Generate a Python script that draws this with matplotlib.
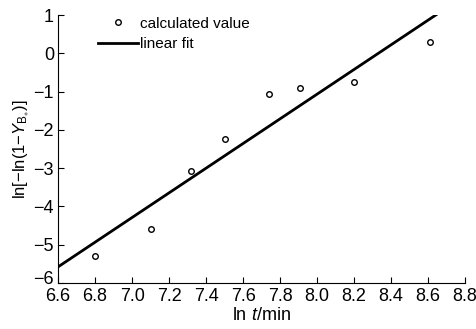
import numpy as np
import matplotlib
matplotlib.use("Agg")
import matplotlib.pyplot as plt
import matplotlib.transforms as mtransforms

plt.rcParams['font.family'] = ['Liberation Sans', 'DejaVu Sans']
plt.rcParams['mathtext.fontset'] = 'custom'
plt.rcParams['mathtext.rm'] = 'Liberation Sans'
plt.rcParams['mathtext.it'] = 'Liberation Sans:italic'

# calculated values
ln_t = [6.80, 7.10, 7.32, 7.50, 7.74, 7.91, 8.20, 8.61]
ln_y = [-5.29, -4.59, -3.07, -2.24, -1.06, -0.91, -0.75, 0.30]

# linear fit endpoints
fit_x = [6.6, 8.65]
fit_y = [-5.58, 1.03]

xticks = [6.6, 6.8, 7.0, 7.2, 7.4, 7.6, 7.8, 8.0, 8.2, 8.4, 8.6, 8.8]
yticks = [-6, -5, -4, -3, -2, -1, 0, 1]

fig = plt.figure(figsize=(4.76, 3.29), dpi=100)
ax = fig.add_axes([0.122, 0.140, 0.855, 0.814])

ax.plot(ln_t, ln_y, 'o', mfc='white', mec='black', ms=4, mew=1.0,
        label='calculated value', zorder=3)
ax.plot(fit_x, fit_y, '-', color='black', lw=2, label='linear fit')

ax.set_xlim(6.6, 8.8)
ax.set_ylim(-6, 1)
ax.set_xticks(xticks)
ax.set_yticks(yticks)
ax.set_xticklabels([f'{v:.1f}' for v in xticks])
ax.set_yticklabels([f'{v}'.replace('-', '\u2212') for v in yticks])
ax.tick_params(direction='in', length=4, width=0.8, labelsize=13)
ax.tick_params(axis='x', pad=4)
ax.tick_params(axis='y', pad=3)

# lift the bottom y label a little so it does not sit on 6.6
lab = ax.get_yticklabels()[0]
lab.set_transform(lab.get_transform() +
                  mtransforms.ScaledTranslation(0, 4 / 72, fig.dpi_scale_trans))

for s in ['top', 'right']:
    ax.spines[s].set_visible(False)

ax.set_xlabel(r'ln $t$/min', fontsize=13, labelpad=1)
ax.set_ylabel(r'ln[$-$ln(1$-$$Y_{\mathrm{B}_{\ast}}$)]', fontsize=12, labelpad=1)

ax.legend(loc='upper left', bbox_to_anchor=(0.065, 1.045), frameon=False,
          fontsize=11, handlelength=2.6, handletextpad=0.1, labelspacing=0.4)

fig.savefig('out.png', dpi=100)
